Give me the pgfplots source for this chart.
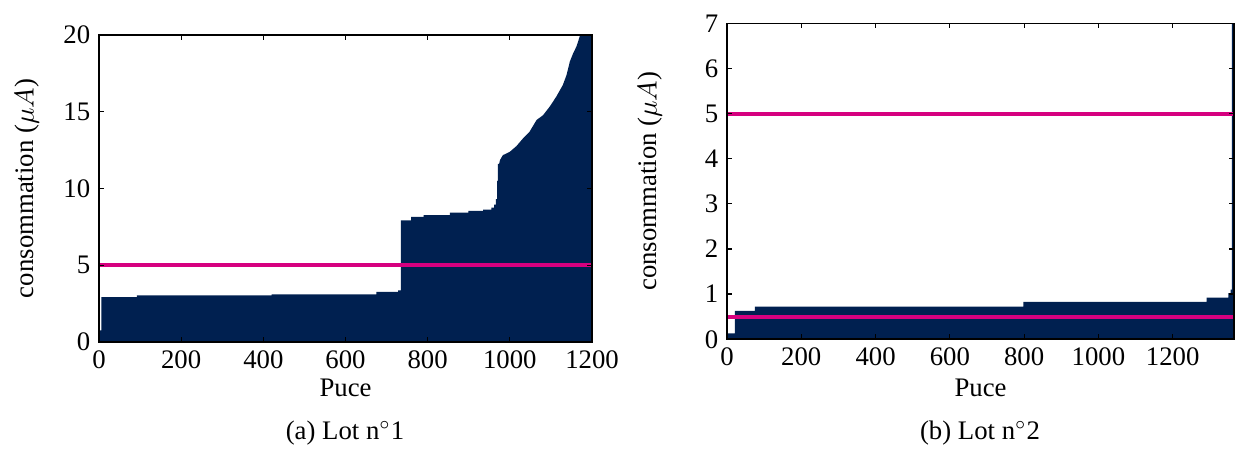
\documentclass[border=0pt]{standalone}
\usepackage{pgfplots}
\pgfplotsset{compat=1.18}
\usepackage{fontspec}
\setmainfont{Liberation Serif}
\definecolor{navyfill}{RGB}{0,32,80}
\definecolor{magline}{RGB}{214,0,127}
\pgfplotsset{
  matlab/.style={
    scale only axis,
    axis on top=true,
    tick align=inside,
    major tick length=2pt,
    xtick pos=both, ytick pos=both,
    axis line style={line width=0.6pt},
    every tick/.style={black, line width=0.5pt},
    font=\fontsize{10.7}{13}\selectfont,
    tick label style={font=\fontsize{10.7}{13}\selectfont},
    /pgf/number format/assume math mode=true,
    /pgf/number format/1000 sep={},
    ymin=0, xmin=0,
    clip=true,
  }
}
\begin{document}
\begin{tikzpicture}[x=1pt,y=1pt]
\useasboundingbox (0,0) rectangle (494.8,180.8);
% ---------- (a) ----------
\begin{axis}[matlab,
  at={(39.6pt,44pt)}, anchor=south west,
  width=197.2pt, height=122.8pt,
  xmax=1200, ymax=20,
  xtick={0,200,...,1200}, ytick={0,5,...,20},
  xlabel={Puce},
  ylabel={consommation ($\mu A$)},
  xlabel style={at={(axis description cs:0.5,0)}, anchor=center, yshift=-18.4pt},
  ylabel style={at={(axis description cs:0,0.5)}, anchor=center, rotate=0, yshift=28.8pt},
]
\addplot[fill=navyfill, draw=none, const plot] coordinates {
(0,0.75) (6,2.93) (92,3.04) (420,3.1) (675,3.26) (728,3.37) (735,7.93)
(760,8.15) (790,8.26) (854,8.43) (899,8.54) (935,8.63) (955,8.75) (962,8.95)
(966,9.3) (969,10.5) (971,11.6) (975,11.6)
} \closedcycle;
\addplot[fill=navyfill, draw=none] coordinates {
(974,11.6) (976,11.85) (983,12.17) (1000,12.39)
(1016,12.76) (1032,13.26) (1048,13.7) (1065,14.46) (1081,14.78) (1097,15.33)
(1113,15.98) (1129,16.74) (1138,17.39) (1146,18.26) (1154,18.8) (1162,19.24)
(1170,19.89) (1174,21) (1200,21)
} \closedcycle;
\addplot[magline, line width=1.6pt] coordinates {(0,5) (1200,5)};
\end{axis}
% ---------- (b) ----------
\begin{axis}[matlab,
  at={(290.8pt,45.1pt)}, anchor=south west,
  width=202.8pt, height=126.4pt,
  xmax=1365, ymax=7,
  xtick={0,200,...,1200}, ytick={0,1,...,7},
  xlabel={Puce},
  ylabel={consommation ($\mu A$)},
  xlabel style={at={(axis description cs:0.5,0)}, anchor=center, yshift=-19.6pt},
  ylabel style={at={(axis description cs:0,0.5)}, anchor=center, yshift=30.8pt},
]
\addplot[fill=navyfill, draw=none, const plot] coordinates {
(0,0.13) (21,0.63) (75,0.72) (798,0.83) (1291,0.92) (1350,1.02) (1356,1.1)
(1359,8) (1365,8)
} \closedcycle;
\addplot[magline, line width=1.6pt] coordinates {(0,5) (1365,5)};
\addplot[magline, line width=1.6pt] coordinates {(0,0.5) (1365,0.5)};
\end{axis}
\node[font=\fontsize{10.7}{13}\selectfont] at (138,7.6) {(a) Lot n$^\circ$1};
\node[font=\fontsize{10.7}{13}\selectfont] at (392,7.6) {(b) Lot n$^\circ$2};
\end{tikzpicture}
\end{document}
